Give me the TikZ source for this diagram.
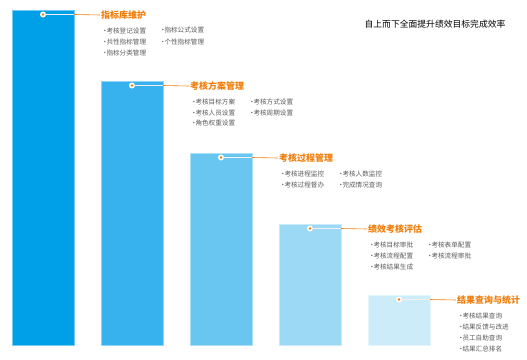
\documentclass[tikz,border=0pt]{standalone}
\usepackage{fontspec}
\newfontfamily\cjk{Noto Sans CJK SC}
\usetikzlibrary{positioning}
\definecolor{barA}{RGB}{0,160,233}
\definecolor{barB}{RGB}{56,178,238}
\definecolor{barC}{RGB}{104,198,240}
\definecolor{barD}{RGB}{155,217,245}
\definecolor{barE}{RGB}{205,236,250}
\definecolor{stage}{RGB}{240,125,10}
\definecolor{itemgray}{RGB}{90,90,90}
\newcommand{\bul}{\hbox to 3pt{\hss·\hss}}
\tikzset{
	every node/.style={font=\cjk, inner sep=0, outer sep=0},
	bar/.style={
		rectangle,
		draw=#1!55!white,
		fill=#1,
		line width=0.5pt,
		anchor=north west,
		minimum width=62pt
	},
	dot/.style={
		circle, fill=white, minimum size=6pt,
		path picture={\fill[stage] (path picture bounding box.center) circle (1.3pt);}
	},
	stagetitle/.style={
		stage,
		anchor=west,
		font=\cjk\fontsize{9}{11}\selectfont\bfseries,
		inner sep=1pt
	},
	task/.style={
		itemgray,
		anchor=west,
		font=\cjk\fontsize{6.6}{8}\selectfont
	},
	inbar/.style={white!88!gray, line width=0.6pt},
	outbar/.style={stage, line width=0.6pt},
}

\begin{document}
\begin{tikzpicture}[x=1pt, y=-1pt]
	\useasboundingbox (0,0) rectangle (527,359);
	
	\node (motto)[font=\cjk\fontsize{8.8}{10}\selectfont] at (435,24) {自上而下全面提升绩效目标完成效率};
	
	\foreach[count=\i from 1] \left/\top/\col/\ncol/\title/\tasks in {
		12/10/barA/2/指标库维护/{考核登记设置,指标公式设置,共性指标管理,个性指标管理,指标分类管理},
		101/81/barB/2/考核方案管理/{考核目标方案,考核方式设置,考核人员设置,考核周期设置,角色权重设置},
		190/153/barC/2/考核过程管理/{考核进程监控,考核人数监控,考核过程督办,完成情况查询},
		279/224/barD/2/绩效考核评估/{考核目标审批,考核表单配置,考核流程配置,考核流程审批,考核结果生成},
		368/295/barE/1/结果查询与统计/{考核结果查询,结果反馈与改进,员工自助查询,结果汇总排名}}
	{
		\pgfmathsetmacro{\h}{345-\top}
		\node (bar\i)[bar=\col, minimum height=\h pt] at (\left,\top) {};
		\node (dot\i)[dot] at (\left+31,\top+4.5) {};
		\node (title\i)[stagetitle] at (\left+88,\top+5) {\title};
		\coordinate (edge\i) at (bar\i.east |- dot\i);
		\draw[inbar] (dot\i) -- (edge\i);
		\draw[outbar] (edge\i) -- (title\i.west);
		
		\foreach[count=\k from 0] \t in \tasks
		{
			\pgfmathtruncatemacro{\row}{\k/\ncol}
			\pgfmathtruncatemacro{\colm}{\k-\row*\ncol}
			\node (task\i-\k)[task] at (\left+91.5+58*\colm,\top+20.5+11*\row) {\bul\t};
		}
	}
	
\end{tikzpicture}
\end{document}
